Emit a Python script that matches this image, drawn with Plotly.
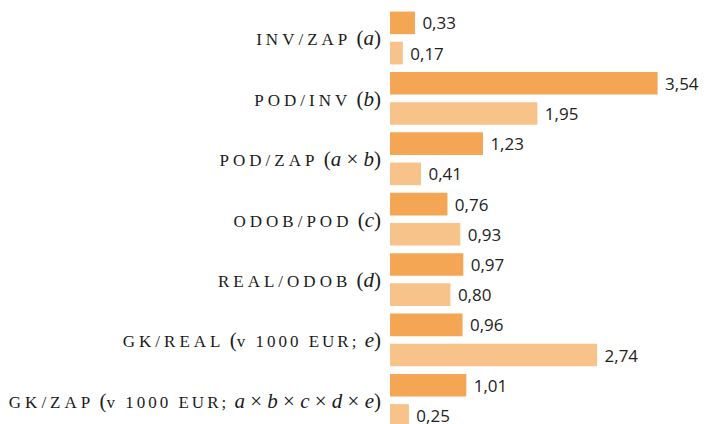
import plotly.graph_objects as go

CAP = '<span style="font-size:17px;letter-spacing:4px">{}</span>'
CAP2 = '<span style="font-size:17px;letter-spacing:3px">{}</span>'

categories = [
    CAP.format("INV/ZAP") + " (<i>a</i>)",
    CAP.format("POD/INV") + " (<i>b</i>)",
    CAP.format("POD/ZAP") + " (<i>a</i> × <i>b</i>)",
    CAP.format("ODOB/POD") + " (<i>c</i>)",
    CAP.format("REAL/ODOB") + " (<i>d</i>)",
    CAP.format("GK/REAL") + " (" + CAP2.format("v 1000 EUR;") + " <i>e</i>)",
    CAP.format("GK/ZAP") + " (" + CAP2.format("v 1000 EUR;") + " <i>a</i> × <i>b</i> × <i>c</i> × <i>d</i> × <i>e</i>)",
]
series_a = [0.33, 3.54, 1.23, 0.76, 0.97, 0.96, 1.01]
series_b = [0.17, 1.95, 0.41, 0.93, 0.80, 2.74, 0.25]

def fmt(v):
    return "\u00a0" + f"{v:.2f}".replace(".", ",")

fig = go.Figure()
fig.add_trace(go.Bar(
    y=categories, x=series_a, orientation="h",
    marker=dict(color="#F4A654", line=dict(width=0)),
    text=[fmt(v) for v in series_a], textposition="outside", cliponaxis=False,
    textfont=dict(family="Open Sans", size=18, color="#222222"),
))
fig.add_trace(go.Bar(
    y=categories, x=series_b, orientation="h",
    marker=dict(color="#F8C28B", line=dict(width=0)),
    text=[fmt(v) for v in series_b], textposition="outside", cliponaxis=False,
    textfont=dict(family="Open Sans", size=18, color="#222222"),
))

fig.update_layout(
    width=706, height=424,
    margin=dict(l=390, r=0, t=0, b=0),
    barmode="group", bargap=0.0, bargroupgap=0.25,
    plot_bgcolor="white", paper_bgcolor="white",
    showlegend=False,
    xaxis=dict(range=[0, 4.18], visible=False, showgrid=False, zeroline=False),
    yaxis=dict(
        type="category", range=[6.392, -0.629],
        showgrid=False, zeroline=False, showline=False, ticks="",
        tickfont=dict(family="Liberation Serif", size=21, color="#1a1a1a"),
        ticklabelstandoff=8,
    ),
)
fig.write_html("out.html", config={"displayModeBar": False},
               post_script="document.body.style.margin='0px';")
